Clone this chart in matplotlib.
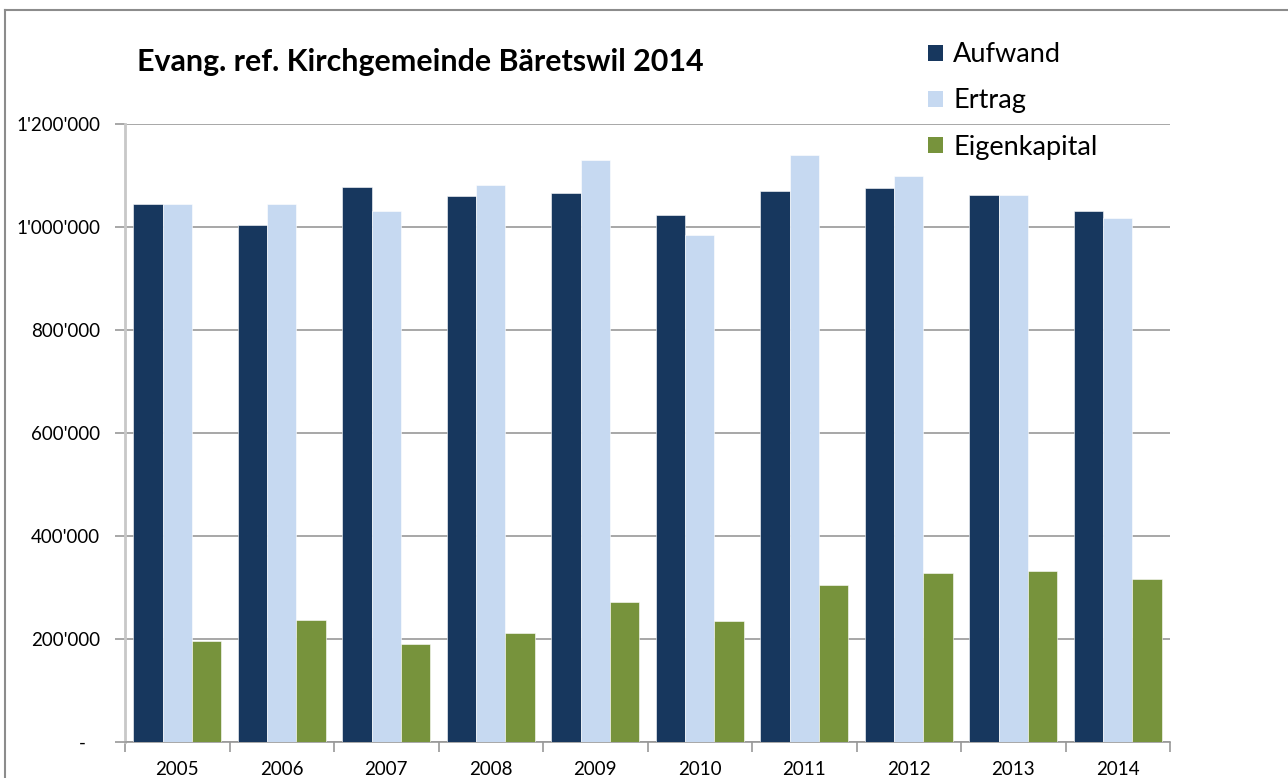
import matplotlib
matplotlib.use("Agg")
import matplotlib.pyplot as plt
from matplotlib.lines import Line2D
from matplotlib.patches import Patch
import numpy as np

years = ["2005", "2006", "2007", "2008", "2009", "2010", "2011", "2012", "2013", "2014"]
aufwand = [1045000, 1003000, 1077000, 1060000, 1066000, 1023000, 1070000, 1076000, 1062000, 1031000]
ertrag = [1045000, 1045000, 1031000, 1082000, 1130000, 984000, 1140000, 1099000, 1063000, 1017000]
eigenkapital = [196000, 237000, 190000, 212000, 272000, 235000, 305000, 328000, 332000, 316000]
series_names = ["Aufwand", "Ertrag", "Eigenkapital"]
colors = ["#17375E", "#C6D9F1", "#77933C"]
yticks = [0, 200000, 400000, 600000, 800000, 1000000, 1200000]
ytick_labels = ["-   ", "200'000", "400'000", "600'000", "800'000", "1'000'000", "1'200'000"]
title = "Evang. ref. Kirchgemeinde Bäretswil 2014"

plt.rcParams['font.family'] = ['Lato', 'DejaVu Sans']

W, H = 1288, 778
fig = plt.figure(figsize=(W / 100, H / 100), dpi=100)
ax = fig.add_axes([125 / W, 1 - 742 / H, (1170 - 125) / W, (742 - 124) / H])

x = np.arange(len(years))
bw = 0.28
for i, (vals, c) in enumerate(zip([aufwand, ertrag, eigenkapital], colors)):
    ax.bar(x + (i - 1) * bw, vals, width=bw, color=c, edgecolor="white",
           linewidth=0.4, zorder=3)

ax.set_xlim(-0.5, len(years) - 0.5)
ax.set_ylim(0, 1200000)
ax.set_yticks(yticks)
ax.set_yticklabels(ytick_labels, fontsize=13.5, color="#000000")
ax.yaxis.grid(True, color="#989898", linewidth=1.2, zorder=0)
ax.set_xticks(x)
ax.set_xticklabels(years, fontsize=13.5)
ax.set_xticks(np.arange(-0.5, len(years)), minor=True)
ax.tick_params(axis="x", which="major", length=0, pad=14)
ax.tick_params(axis="x", which="minor", length=7, color="#989898", width=1.2)
ax.tick_params(axis="y", length=7, color="#989898", width=1.2, pad=11)

for s in ["top", "right"]:
    ax.spines[s].set_visible(False)
ax.spines["left"].set_color("#C8C8C8")
ax.spines["left"].set_linewidth(2)
ax.spines["bottom"].set_color("#989898")
ax.spines["bottom"].set_linewidth(1.2)
ax.set_axisbelow(True)

fig.text(137 / W, 1 - 62 / H, title, fontsize=21.9, fontweight="bold",
         ha="left", va="center")

handles = [Patch(facecolor=c, edgecolor="none") for c in colors]
leg = fig.legend(handles, series_names, loc="upper left",
                 bbox_to_anchor=(904 / W, 1 - 18 / H), frameon=False,
                 fontsize=19.5, handlelength=0.55, handleheight=0.55,
                 handletextpad=0.37, labelspacing=0.78)

# outer chart border
fig.add_artist(Line2D([5 / W, 1.0], [1 - 9.5 / H, 1 - 9.5 / H],
                      transform=fig.transFigure, color="#8C8C8C", linewidth=1.5))
fig.add_artist(Line2D([5 / W, 5 / W], [0, 1 - 9.5 / H],
                      transform=fig.transFigure, color="#8C8C8C", linewidth=1.5))

fig.savefig("out.png", dpi=100)
